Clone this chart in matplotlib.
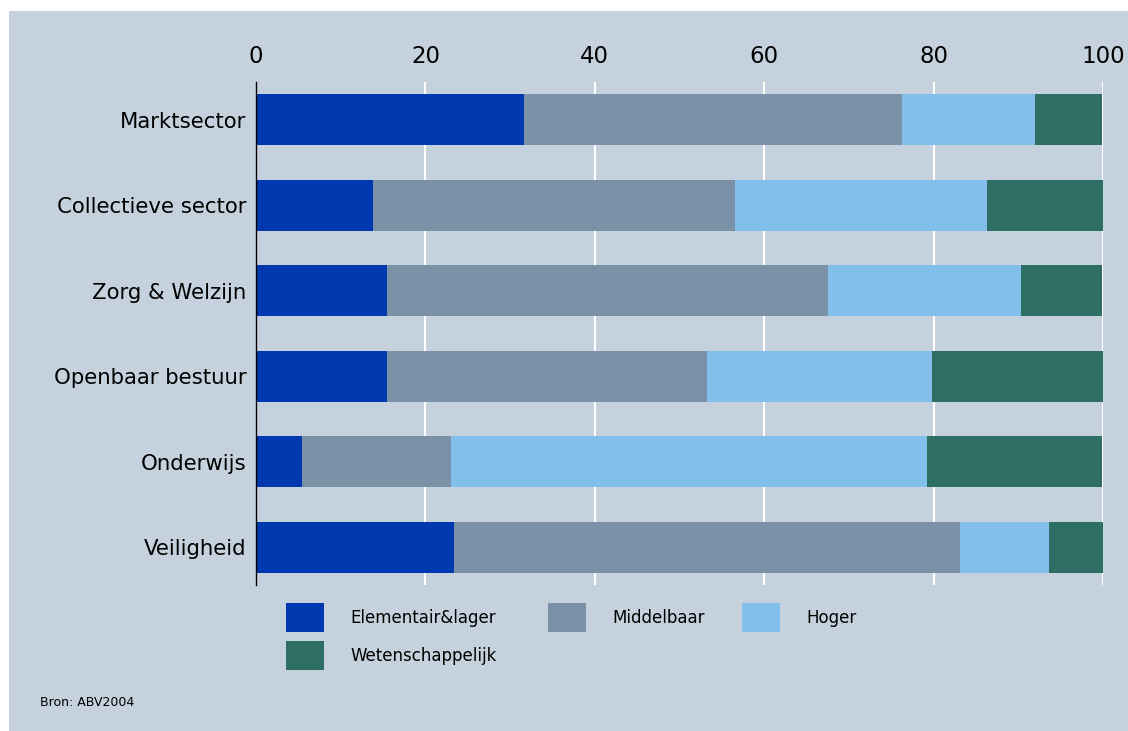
import matplotlib
matplotlib.use("Agg")
import matplotlib.pyplot as plt
from matplotlib.patches import Rectangle
import numpy as np

categories = ["Marktsector", "Collectieve sector", "Zorg & Welzijn",
              "Openbaar bestuur", "Onderwijs", "Veiligheid"]
series_names = ["Elementair&lager", "Middelbaar", "Hoger", "Wetenschappelijk"]
elementair = [31.6, 13.8, 15.5, 15.5, 5.4, 23.4]
middelbaar = [44.7, 42.8, 52.0, 37.7, 17.6, 59.7]
hoger = [15.7, 29.7, 22.8, 26.6, 56.2, 10.5]
wetenschappelijk = [7.9, 13.7, 9.6, 20.2, 20.7, 6.4]
xticks = [0, 20, 40, 60, 80, 100]
colors = ["#0038B0", "#7B91A8", "#82BFEA", "#2E6E65"]
bg = "#C5D2DE"

plt.rcParams['font.family'] = ['DejaVu Sans']

W, H = 1128, 731
fig = plt.figure(figsize=(W / 100, H / 100), dpi=100)
fig.patch.set_facecolor("white")
fig.patches.append(Rectangle((9 / W, 0), 1 - 9 / W, 1 - 11 / H, transform=fig.transFigure,
                             facecolor=bg, edgecolor="none", zorder=-10))

ax = fig.add_axes([256 / W, 1 - 585 / H, (1103 - 256) / W, (585 - 82) / H])
ax.set_facecolor(bg)

y = np.arange(len(categories))
left = np.zeros(len(categories))
for name, vals, c in zip(series_names, [elementair, middelbaar, hoger, wetenschappelijk], colors):
    ax.barh(y, vals, left=left, height=0.6, color=c, zorder=3)
    left += np.array(vals)

ax.set_xlim(0, 100)
ax.set_ylim(5.44, -0.44)
ax.set_yticks(y)
ax.set_yticklabels(categories, fontsize=15.3)
ax.set_xticks(xticks)
ax.set_xticklabels([str(t) for t in xticks], fontsize=16.5)
ax.xaxis.tick_top()
ax.tick_params(axis='x', length=0, pad=10)
ax.tick_params(axis='y', length=0, pad=7)
ax.grid(axis='x', color='white', linewidth=1.5, zorder=0)
for s in ['top', 'right', 'bottom']:
    ax.spines[s].set_visible(False)
ax.spines['left'].set_color('black')
ax.spines['left'].set_linewidth(1.0)
ax.spines['left'].set_zorder(4)

# legend
pos = [(286, 603), (548, 603), (742, 603), (286, 641)]
for (px, py), name, c in zip(pos, series_names, colors):
    fig.patches.append(Rectangle((px / W, 1 - (py + 29) / H), 38 / W, 29 / H,
                                 transform=fig.transFigure, facecolor=c, edgecolor="none"))
    fig.text((px + 64) / W, 1 - (py + 15) / H, name, fontsize=12, va='center', ha='left')

fig.text(40 / W, 1 - 702 / H, "Bron: ABV2004", fontsize=9, va='center', ha='left')

fig.savefig("out.png", dpi=100)
